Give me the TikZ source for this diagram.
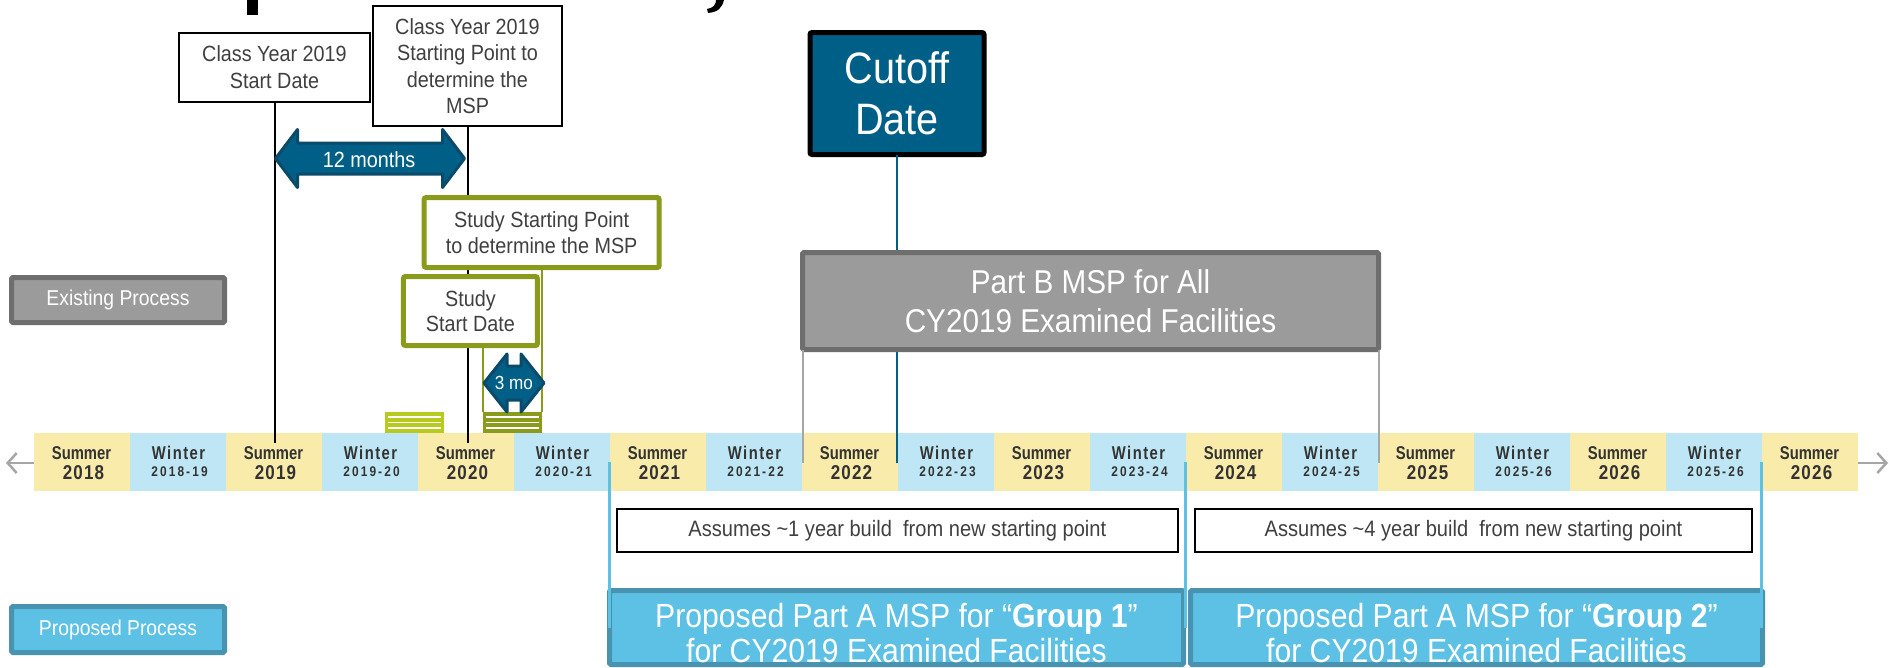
\documentclass[tikz,border=0pt]{standalone}
\usepackage{fontspec}
\setmainfont{Liberation Sans}[FakeStretch=0.9]
\newfontfamily\cellA{Liberation Sans}[FakeStretch=0.8]
\newfontfamily\cellB{Liberation Sans}[FakeStretch=0.8,LetterSpace=8]
\newfontfamily\cellY{Liberation Sans}[FakeStretch=0.85,LetterSpace=6]
\newfontfamily\cellZ{Liberation Sans}[FakeStretch=0.85,LetterSpace=15]
\usetikzlibrary{arrows.meta}
\definecolor{cteal}{HTML}{005F87}
\definecolor{ctealrim}{HTML}{0B4A69}
\definecolor{gfill}{HTML}{9B9B9B}
\definecolor{gedge}{HTML}{6E6E6E}
\definecolor{bfill}{HTML}{5DC1E6}
\definecolor{bedge}{HTML}{4893B0}
\definecolor{colive}{HTML}{8A9A1B}
\definecolor{clime}{HTML}{B7CB1F}
\definecolor{csum}{HTML}{F9EBAA}
\definecolor{cwin}{HTML}{BEE6F5}
\definecolor{txt}{HTML}{404040}
\definecolor{celltxt}{HTML}{333333}
\definecolor{tlgray}{HTML}{A6A6A6}
\begin{document}
\begin{tikzpicture}[x=1pt,y=-1pt,
  every node/.style={inner sep=0pt,outer sep=0pt},
  wbox/.style={draw=black,line width=2pt,fill=white,align=center,text=txt,font=\fontsize{22}{26.5}\selectfont},
  obox/.style={draw=colive,line width=5pt,fill=white,rounded corners=2pt,align=center,text=txt,font=\fontsize{22}{25.5}\selectfont},
  gbox/.style={draw=gedge,line width=5pt,fill=gfill,rounded corners=1.5pt,align=center,text=white},
  bbox/.style={draw=bedge,line width=5pt,fill=bfill,rounded corners=1.5pt,align=center,text=white},
  abox/.style={draw=black,line width=2pt,fill=white,text=txt,font=\fontsize{22.3}{24}\selectfont},
  cellS/.style={fill=csum,minimum width=96pt,minimum height=58pt},
  cellW/.style={fill=cwin,minimum width=96pt,minimum height=58pt},
  stop/.style={text=celltxt,font=\cellA\bfseries\fontsize{18.5}{20}\selectfont},
  wtop/.style={text=celltxt,font=\cellB\bfseries\fontsize{18.5}{20}\selectfont},
  syr/.style={text=celltxt,font=\cellY\bfseries\fontsize{20}{22}\selectfont},
  wyr/.style={text=celltxt,font=\cellZ\bfseries\fontsize{14}{16}\selectfont},
  kline/.style={draw=black,line width=2pt},
  oline/.style={draw=colive,line width=2pt},
  tline/.style={draw=cteal,line width=2pt},
  gline/.style={draw=tlgray,line width=2pt},
  blline/.style={draw=bfill,line width=2.5pt},
  darrow/.style={fill=cteal,draw=ctealrim,line width=3pt,line join=round}
]
\useasboundingbox (0,0) rectangle (1889,667);
\fill[white] (0,0) rectangle (1889,667);

% remnants of the cut-off title
\fill[black] (247,0) rectangle (258,15);
\fill[black] (716,0) -- (724,0) .. controls (722,8) and (718,12) .. (708,13) -- (707,9) .. controls (713,8) and (716,5) .. (716,0) -- cycle;

% timeline axis
\coordinate (tlL) at (6,463);
\coordinate (tlR) at (1888,463);
\draw[tlgray,line width=2.5pt,{Straight Barb[length=9pt,width=20pt]}-{Straight Barb[length=9pt,width=20pt]}] (tlL) -- (tlR);

% cells
\foreach \i/\yr in {0/2018,2/2019,4/2020,6/2021,8/2022,10/2023,12/2024,14/2025,16/2026,18/2026}{
  \node[cellS] (c\i) at ({81.5+96*\i},462) {};
  \node[stop] (t\i) at ({81.5+96*\i},453) {Summer};
  \node[syr] (y\i) at ({83.5+96*\i},473) {\yr};
}
\foreach \i/\yr in {1/2018-19,3/2019-20,5/2020-21,7/2021-22,9/2022-23,11/2023-24,13/2024-25,15/2025-26,17/2025-26}{
  \node[cellW] (c\i) at ({81.5+96*\i},462) {};
  \node[wtop] (t\i) at ({82.5+96*\i},453) {Winter};
  \node[wyr] (y\i) at ({83.5+96*\i},472) {\yr};
}

% small striped bars
\node[fill=clime,minimum width=59pt,minimum height=21pt] (bar1) at (414.5,422.5) {};
\node[fill=colive,minimum width=59pt,minimum height=21pt] (bar2) at (512.5,422.5) {};
\foreach \yy in {417,422.5,428}{
  \draw[white,line width=1.6pt] (388,\yy) -- (441,\yy);
  \draw[white,line width=1.6pt] (486,\yy) -- (539,\yy);
}

% class year boxes
\node[wbox,minimum width=191pt,minimum height=69pt] (cysd) at (274.5,67) {Class Year 2019\\Start Date};
\node[wbox,minimum width=189pt,minimum height=120pt] (cysp) at (467.5,66) {Class Year 2019\\Starting Point to\\determine the\\MSP};
\coordinate (yA) at (0,443);
\draw[kline] (cysd.south) -- (cysd.south |- yA);
\draw[kline] (cysp.south) -- (cysp.south |- yA);

% study boxes
\node[obox,minimum width=235pt,minimum height=70pt] (ssp) at (541.7,232.5) {Study Starting Point\\to determine the MSP};
\node[obox,minimum width=134pt,minimum height=69pt] (ssd) at (470.4,311) {Study\\Start Date};
\draw[oline] (ssp.south) -- (ssp.south |- bar2.north);
\draw[oline] (bar2.north west) -- (bar2.north west |- ssd.south);

% 3 mo arrow
\filldraw[darrow] (484,383) -- (507,354) -- (507,366) -- (521,366) -- (521,354) -- (544,383)
  -- (521,412) -- (521,400) -- (507,400) -- (507,412) -- cycle;
\node[text=white,font=\fontsize{19}{21}\selectfont] (m3) at (514,382.5) {3 mo};

% 12 months arrow
\filldraw[darrow] (275.5,158.5) -- (297.5,129.5) -- (297.5,143) -- (442.5,143) -- (442.5,129.5) -- (464.5,158.5)
  -- (442.5,187.5) -- (442.5,174) -- (297.5,174) -- (297.5,187.5) -- cycle;
\node[text=white,font=\fontsize{22}{24}\selectfont] (m12) at (369,159.5) {12 months};

% cutoff and part B
\coordinate (yT) at (0,463);
\node[draw=black,line width=5pt,fill=cteal,minimum width=174pt,minimum height=122pt,rounded corners=2pt,align=center,text=white,font=\fontsize{44}{51}\selectfont] (cut) at (897,93.5) {Cutoff\\Date};
\draw[tline] (cut.south) -- (cut.south |- yT);
\node[gbox,minimum width=576pt,minimum height=97pt,font=\fontsize{33}{38.5}\selectfont] (pb) at (1090.5,301) {Part B MSP for All\\CY2019 Examined Facilities};
\draw[gline] (pb.south west) -- (pb.south west |- yT);
\draw[gline] (pb.south east) -- (pb.south east |- yT);

% legends
\node[gbox,minimum width=213pt,minimum height=45pt,font=\fontsize{21.5}{24}\selectfont] (exist) at (118,300) {Existing Process};
\node[bbox,minimum width=213pt,minimum height=46pt,font=\fontsize{21.5}{24}\selectfont] (prop) at (118,629.5) {Proposed Process};

% assumption boxes
\node[abox,minimum width=560.6pt,minimum height=43pt] (as1) at (897.3,530.5) {Assumes \textasciitilde1 year build\ \ from new starting point};
\node[abox,minimum width=557.5pt,minimum height=43pt] (as2) at (1473.5,530.5) {Assumes \textasciitilde4 year build\ \ from new starting point};

% proposed groups
\node[bbox,minimum width=574pt,minimum height=74pt] (g1) at (896.5,627.5) {};
\node[bbox,minimum width=572pt,minimum height=74pt] (g2) at (1476.5,627.5) {};
\node[text=white,align=center,font=\fontsize{33.5}{35}\selectfont] (g1t) at (896.5,633.5) {Proposed Part A MSP for “\textbf{Group 1}”\\for CY2019 Examined Facilities};
\node[text=white,align=center,font=\fontsize{33.5}{35}\selectfont] (g2t) at (1476.5,633.5) {Proposed Part A MSP for “\textbf{Group 2}”\\for CY2019 Examined Facilities};
\draw[blline] (c6.west) -- (c6.west |- g1.center);
\draw[blline] (c12.west) -- (c12.west |- g2.center);
\draw[blline] (c18.west) -- (c18.west |- g2.center);
\end{tikzpicture}
\end{document}
